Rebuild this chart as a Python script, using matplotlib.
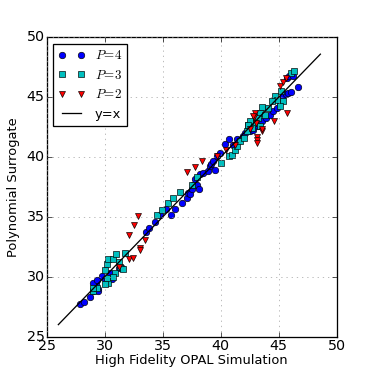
import numpy as np
import matplotlib
matplotlib.use("Agg")
import matplotlib.pyplot as plt

plt.style.use('classic')
plt.rcParams['mathtext.fontset'] = 'cm'

# P=4 surrogate vs OPAL
x4 = [27.9, 28.2, 28.7, 29.0, 29.2, 29.25, 29.0, 29.3, 29.45, 29.4, 29.75, 30.0, 30.45, 30.6, 31.2, 31.45,
      33.55, 33.85, 34.3, 34.8, 35.3, 35.7, 36.1, 36.7, 37.1, 37.2, 37.35, 37.5, 37.6, 37.8, 38.0, 38.1, 38.2, 38.5,
      38.9, 39.1, 39.2, 39.35, 39.5, 39.65, 39.95, 40.4, 40.75, 41.1, 41.4, 41.9, 42.1,
      42.5, 42.8, 43.25, 43.55, 43.95, 44.25, 44.55, 44.9, 45.1, 45.25, 45.4, 45.6, 45.8, 46.1, 46.7, 45.7, 45.9, 46.2]
y4 = [27.7, 27.9, 28.3, 28.8, 29.1, 29.4, 29.5, 29.7, 29.0, 28.8, 30.1, 29.8, 30.35, 29.8, 30.7, 30.7,
      33.7, 34.05, 34.6, 35.2, 35.65, 35.2, 35.65, 36.2, 36.6, 37.0, 36.9, 37.3, 37.7, 38.2, 37.7, 37.3, 38.55, 38.7,
      38.85, 39.25, 39.45, 39.65, 38.9, 40.1, 40.35, 41.1, 41.55, 41.05, 41.5, 41.8, 42.0,
      42.15, 42.3, 42.6, 43.0, 43.3, 43.55, 43.85, 44.1, 44.6, 44.95, 45.1, 45.3, 45.35, 45.45, 45.85, 46.6, 46.75, 46.8]

# P=3
x3 = [29.0, 29.35, 30.0, 30.2, 30.3, 30.7, 31.0, 31.75, 30.3, 30.2, 30.9, 30.7, 31.3, 31.6, 31.2, 30.0, 29.0,
      34.55, 34.9, 35.5, 35.9, 36.5, 37.5, 38.0,
      40.0, 40.75, 41.0, 41.2, 41.4, 41.65, 42.0, 42.25, 42.4,
      46.1, 46.35, 45.2, 44.7, 44.85, 45.4, 45.1, 44.4, 44.1, 43.6, 43.4, 43.8, 43.25, 42.95, 42.5, 42.7, 43.4, 42.4]
y3 = [28.8, 29.1, 30.6, 31.05, 31.5, 31.5, 31.9, 32.0, 29.5, 29.9, 30.3, 30.0, 30.8, 30.65, 31.2, 29.4, 29.1,
      35.15, 35.55, 36.2, 36.6, 37.1, 37.7, 38.3,
      39.5, 40.1, 40.2, 40.55, 40.9, 41.35, 41.6, 42.15, 42.7,
      47.0, 47.2, 45.5, 45.1, 44.8, 44.7, 44.25, 44.7, 44.1, 44.15, 43.7, 43.55, 43.3, 42.85, 43.0, 42.45, 42.6, 42.7]

# P=2
x2 = [31.25, 32.1, 32.45, 33.0, 33.05, 33.5, 32.1, 32.5, 32.9, 37.1, 37.75, 38.4, 39.7, 40.5, 41.2,
      43.1, 43.1, 43.1, 43.6, 42.5, 43.0, 44.6, 45.7, 45.1, 45.35, 45.65, 42.9, 43.6, 43.05, 42.8]
y2 = [30.8, 31.5, 31.6, 32.4, 32.2, 33.1, 33.5, 34.3, 35.1, 38.75, 39.2, 39.7, 40.1, 40.6, 41.05,
      41.65, 41.4, 41.2, 42.15, 42.35, 43.7, 43.0, 43.65, 45.9, 46.25, 46.6, 43.35, 42.35, 42.85, 43.4]

line_ends = [26.0, 48.6]

fig = plt.figure(figsize=(4, 4), dpi=93.5, facecolor='white')
ax = fig.add_subplot(111)
ax.plot(x4, y4, 'bo', markersize=5, label='$P\\!=\\!4$')
ax.plot(x3, y3, 'cs', markersize=5, label='$P\\!=\\!3$')
ax.plot(x2, y2, 'rv', markersize=5, label='$P\\!=\\!2$')
ax.plot(line_ends, line_ends, 'k-', label='y=x')
ax.set_xlim(25, 50)
ax.set_ylim(25, 50)
ax.set_xticks([25, 30, 35, 40, 45, 50])
ax.set_yticks([25, 30, 35, 40, 45, 50])
ax.grid(True, color='0.6')
ax.tick_params(labelsize=11, pad=1.5)
ax.set_xlabel('High Fidelity OPAL Simulation', fontsize=10, labelpad=1)
ax.set_ylabel('Polynomial Surrogate', fontsize=10, labelpad=5)
ax.legend(loc='upper left', numpoints=2, fontsize=10)
fig.savefig('out.png', dpi=93.5, facecolor='white')
